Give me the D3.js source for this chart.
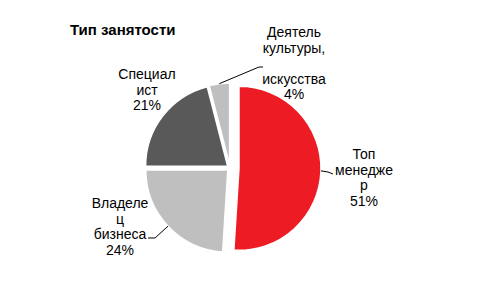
<!DOCTYPE html>
<html><head><meta charset="utf-8">
<script src="https://cdn.jsdelivr.net/npm/d3@7"></script>
<style>body{margin:0;background:#fff}svg{display:block}text{font-family:"Liberation Sans",Arial,sans-serif;fill:#000}</style>
</head><body>
<script>
const title = "Тип занятости";
const categories = ["Топ менеджер", "Владелец бизнеса", "Специалист", "Деятель культуры, искусства"];
const values = [51, 24, 21, 4];
const labelLines = [
  ["Топ", "менедже", "р", "51%"],
  ["Владеле", "ц", "бизнеса", "24%"],
  ["Специал", "ист", "21%"],
  ["Деятель", "культуры,", "", "искусства", "4%"]
];
const colors = ["#ED1C24", "#BFBFBF", "#595959", "#BFBFBF"];

const W = 490, H = 282;
const cx = 230, cy = 168, R = 82;
const explode = [9, 3, 3, 3];
// label layout: center x, first baseline y, leader elbow points
const labelLayout = [
  {x: 364, y: 159, leader: [[328, 172], [333, 174]]},
  {x: 120, y: 208, leader: [[155, 238], [148, 238]]},
  {x: 147, y: 79, leader: null},
  {x: 294, y: 37, leader: [[259, 67], [263, 67]]}
];
const lineH = 15.5;

const svg = d3.select("body").append("svg").attr("width", W).attr("height", H);

svg.append("text").attr("x", 70).attr("y", 35)
  .attr("font-size", 15).attr("font-weight", "bold").text(title);

const pie = d3.pie().sort(null).value(d => d)(values);
const arc = d3.arc().innerRadius(0).outerRadius(R);

const g = svg.append("g");
pie.forEach((p, i) => {
  const mid = (p.startAngle + p.endAngle) / 2;
  const ox = cx + explode[i] * Math.sin(mid);
  const oy = cy - explode[i] * Math.cos(mid);
  g.append("path").attr("d", arc(p))
    .attr("transform", `translate(${ox},${oy})`)
    .attr("fill", colors[i]).attr("stroke", "#fff").attr("stroke-width", 1.5);

  const L = labelLayout[i];
  if (L.leader) {
    const sx = ox + R * Math.sin(mid), sy = oy - R * Math.cos(mid);
    const pts = [[sx, sy]].concat(L.leader);
    svg.append("path").attr("d", d3.line()(pts))
      .attr("fill", "none").attr("stroke", "#000").attr("stroke-width", 1);
  }
  const t = svg.append("text").attr("text-anchor", "middle").attr("font-size", 14);
  labelLines[i].forEach((ln, k) => {
    t.append("tspan").attr("x", L.x).attr("y", L.y + k * lineH).text(ln);
  });
});
</script>
</body></html>
